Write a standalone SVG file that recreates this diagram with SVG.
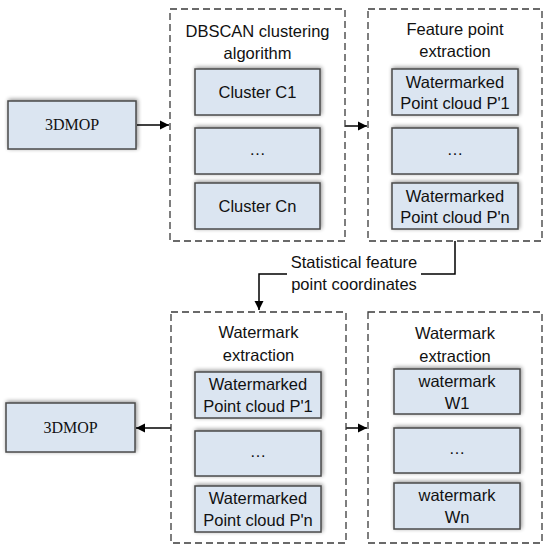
<svg xmlns="http://www.w3.org/2000/svg" width="550" height="550" viewBox="0 0 550 550">
<style>
.box{fill:#dbe5f1;stroke:#4a4a4a;stroke-width:1.5;filter:url(#sh)}
.grp{fill:none;stroke:#3a3a3a;stroke-width:1.3;stroke-dasharray:7,4}
.t{font-family:"Liberation Sans",Arial,sans-serif;font-size:16.5px;fill:#111;text-anchor:middle}
.s{font-family:"Liberation Serif","Times New Roman",serif;font-size:16px;fill:#111;text-anchor:middle}
.c{fill:none;stroke:#000;stroke-width:1.5}
</style>
<defs>
<filter id="sh" x="-10%" y="-20%" width="120%" height="140%">
<feGaussianBlur in="SourceAlpha" stdDeviation="2"/>
<feOffset dx="1" dy="-1" result="b"/>
<feComponentTransfer><feFuncA type="linear" slope="0.45"/></feComponentTransfer>
<feMerge><feMergeNode/><feMergeNode in="SourceGraphic"/></feMerge>
</filter>
<marker id="ah" markerWidth="10" markerHeight="10" refX="9" refY="5" orient="auto" markerUnits="userSpaceOnUse">
<path d="M0,0.5 L9,5 L0,9.5 Z" fill="#000"/>
</marker>
</defs>
<rect width="550" height="550" fill="#fff"/>

<g id="connectors">
<line class="c" x1="137" y1="125" x2="169" y2="125" marker-end="url(#ah)"/>
<line class="c" x1="345" y1="126" x2="367" y2="126" marker-end="url(#ah)"/>
<polyline class="c" points="455,241 455,274 259,274 259,310" marker-end="url(#ah)"/>
<line class="c" x1="171" y1="428" x2="136" y2="428" marker-end="url(#ah)"/>
<line class="c" x1="346" y1="428" x2="367" y2="428" marker-end="url(#ah)"/>
<g id="label-stat">
<rect x="287" y="252" width="134" height="42" fill="#fff"/>
<text class="t" x="354" y="268">Statistical feature</text>
<text class="t" x="354" y="290">point coordinates</text>
</g>
</g>

<g id="in3dmop">
<rect class="box" x="8" y="101" width="128" height="48"/>
<text class="s" x="72" y="130">3DMOP</text>
</g>

<g id="dbscan">
<rect class="grp" x="170" y="9" width="175" height="232"/>
<text class="t" x="257.5" y="37">DBSCAN clustering</text>
<text class="t" x="257.5" y="59">algorithm</text>
<g id="c1"><rect class="box" x="195" y="69" width="125" height="46"/><text class="t" x="257.5" y="98">Cluster C1</text></g>
<g id="cdots"><rect class="box" x="195" y="128" width="125" height="46"/><text class="t" x="257.5" y="155">…</text></g>
<g id="cn"><rect class="box" x="195" y="183" width="125" height="46"/><text class="t" x="257.5" y="212">Cluster Cn</text></g>
</g>

<g id="feature">
<rect class="grp" x="368" y="9" width="174" height="232"/>
<text class="t" x="455" y="35">Feature point</text>
<text class="t" x="455" y="57">extraction</text>
<g id="f1"><rect class="box" x="392" y="69" width="126" height="46"/><text class="t" x="455" y="88">Watermarked</text><text class="t" x="455" y="109">Point cloud P'1</text></g>
<g id="fdots"><rect class="box" x="392" y="128" width="126" height="46"/><text class="t" x="455" y="155">…</text></g>
<g id="fn"><rect class="box" x="392" y="183" width="126" height="46"/><text class="t" x="455" y="202">Watermarked</text><text class="t" x="455" y="223">Point cloud P'n</text></g>
</g>

<g id="out3dmop">
<rect class="box" x="6" y="403" width="129" height="49"/>
<text class="s" x="70.5" y="433">3DMOP</text>
</g>

<g id="wm-extract1">
<rect class="grp" x="171" y="312" width="175" height="231"/>
<text class="t" x="258.5" y="338">Watermark</text>
<text class="t" x="258.5" y="361">extraction</text>
<g id="w1"><rect class="box" x="195" y="372" width="126" height="46"/><text class="t" x="258" y="390">Watermarked</text><text class="t" x="258" y="412">Point cloud P'1</text></g>
<g id="wdots"><rect class="box" x="195" y="431" width="126" height="45"/><text class="t" x="258" y="457">…</text></g>
<g id="wn"><rect class="box" x="195" y="486" width="126" height="46"/><text class="t" x="258" y="504">Watermarked</text><text class="t" x="258" y="526">Point cloud P'n</text></g>
</g>

<g id="wm-extract2">
<rect class="grp" x="368" y="312" width="174" height="231"/>
<text class="t" x="455" y="339">Watermark</text>
<text class="t" x="455" y="362">extraction</text>
<g id="m1"><rect class="box" x="394" y="369" width="126" height="45"/><text class="t" x="457" y="387">watermark</text><text class="t" x="457" y="409">W1</text></g>
<g id="mdots"><rect class="box" x="394" y="428" width="126" height="45"/><text class="t" x="457" y="454">…</text></g>
<g id="mn"><rect class="box" x="394" y="483" width="126" height="46"/><text class="t" x="457" y="501">watermark</text><text class="t" x="457" y="523">Wn</text></g>
</g>
</svg>
